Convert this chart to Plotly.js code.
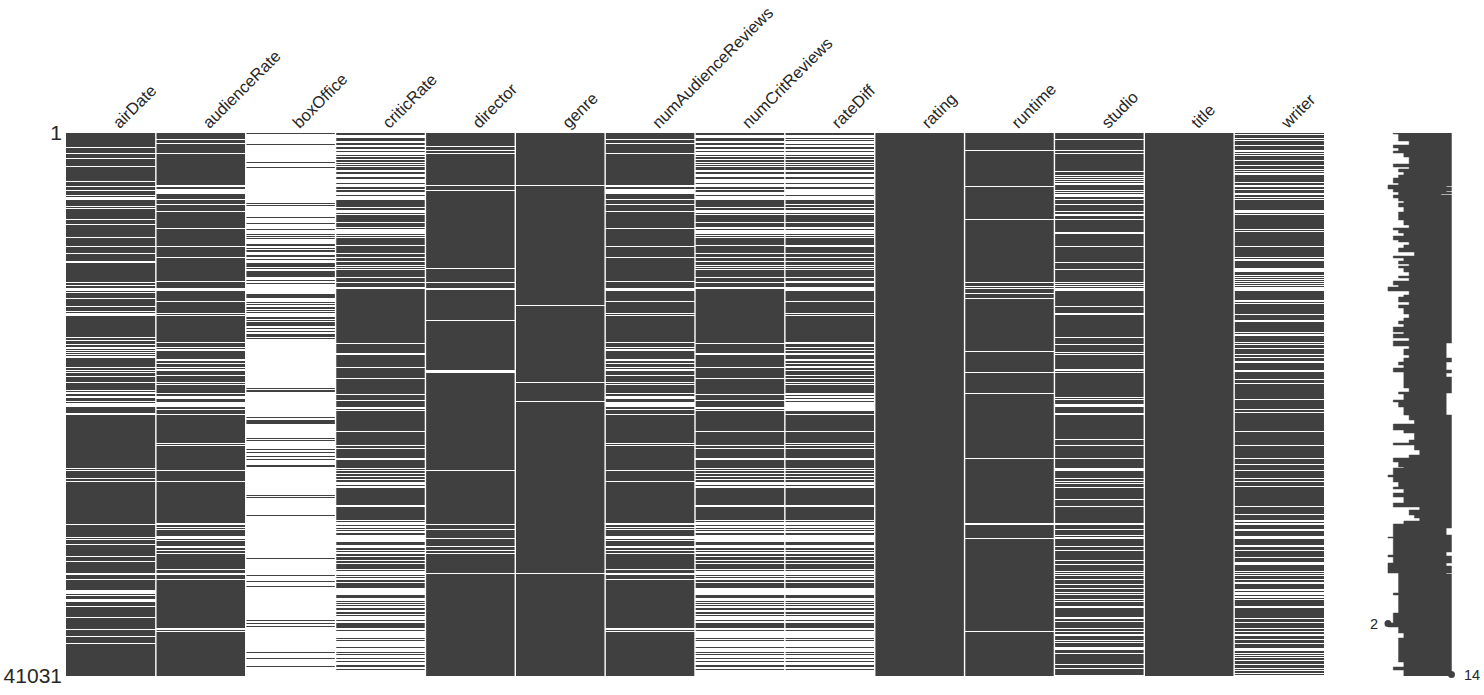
<!DOCTYPE html>
<html>
<head>
<meta charset="utf-8">
<script src="https://cdn.plot.ly/plotly-3.0.1.min.js"></script>
<style>html,body{margin:0;padding:0;background:#fff}</style>
</head>
<body>
<div id="chart" style="width:1484px;height:695px"></div>
<script>
const columns = ['airDate', 'audienceRate', 'boxOffice', 'criticRate', 'director', 'genre', 'numAudienceReviews',
  'numCritReviews', 'rateDiff', 'rating', 'runtime', 'studio', 'title', 'writer'];
const totalRows = 41031;
const binCount = 543; // each bin holds about 75 rows

// bins: a number is one bin, a pair is a run of bins
const airDateGaps = [14, 20, 25, 33, 48, 53, 57, 62, [64, 66], 73, 75, 86, 91, 104, 113, 120, [128, 129], 149, 152, [155, 157], 159, 165,
  173, 178, [180, 182], 204, 207, 211, [214, 215], 217, 219, 221, [223, 224], 234, 237, 239, 243, 249, 257, [259, 260],
  [263, 264], 268, [270, 273], [280, 281], 335, 337, 345, 348, 391, 404, 406, 411, 423, 428, [440, 441], 446,
  [457, 460], 462, [466, 468], 473, 484, 496, 503, 510];
const audienceRateGaps = [6, 10, 20, [52, 53], [56, 60], 66, 71, 78, 95, 113, 124, 148, [155, 157], 168, 180, 182, 209, 214, [216, 217],
  [226, 227], 230, 234, [236, 237], 242, 249, 251, 260, [263, 265], [269, 273], 276, 281, 310, 312, 337, 348,
  [390, 391], 394, 396, [403, 405], 407, [413, 414], 417, 420, 436, [440, 441], 446, [495, 496], 498];
const directorGaps = [13, 17, 20, 52, 57, 135, 149, [155, 156], 187, [237, 239], 337, 391, 396, 405, 413, 417, 420, 440];
const genreGaps = [52, 172, 249, 268, 440];
const numAudienceReviewsGaps = [6, 10, 20, [52, 53], [56, 60], 66, 71, 78, 95, 113, 124, 148, [155, 157], 168, 180, 182, 209, 214, [216, 217],
  [226, 227], 230, 234, [236, 237], 242, 249, 251, 260, [263, 265], [269, 273], 276, 281, 310, 312, 337, 348,
  [390, 391], 394, 396, [403, 405], 407, [413, 414], 417, 420, 436, [440, 441], 446, [495, 496], 498];
const ratingGaps = [];
const runtimeGaps = [17, 53, 86, 149, 153, 155, 160, 165, 218, 239, 260, 325, [390, 391], 405, 498];
const studioGaps = [6, 17, 20, 38, 42, 44, 46, 48, [50, 51], 57, 59, [61, 63], 66, 71, 78, [81, 82], 86, [99, 100], 113, 129, 136,
  149, 151, 153, [155, 157], 173, [180, 181], 204, 211, 219, 221, [236, 237], 239, 264, 266, [271, 273], [280, 281],
  306, 312, 325, [335, 337], 345, 348, 350, 354, 366, 373, [390, 391], 396, 402, [404, 405], 413, 417, 427, 431,
  438, 440, 442, 446, 451, 455, 459, 461, 466, 468, [473, 474], [484, 485], 488, 495, 498, [501, 502], 507, 509,
  [514, 516], 520, 531, 535, 542];
const titleGaps = [];
const writerGaps = [1, 5, 7, 12, [17, 18], 20, 22, 27, 32, 36, 38, [40, 41], 49, [52, 53], 56, [60, 61], 64, 66, [77, 79], 81, 96, 98,
  113, 124, [126, 127], [135, 138], 142, 144, 146, 148, 150, 152, 154, [155, 157], [167, 168], 170, 181, [187, 188],
  199, [201, 202], 209, 211, 215, 221, 224, [228, 229], [237, 238], 246, 250, 266, 276, 279, 298, 312, 325, 331, 337,
  345, 348, 353, 373, 381, [387, 388], [390, 391], [396, 397], [403, 405], [412, 413], 417, 424, [429, 431], 438, 440,
  442, 446, [449, 450], [456, 457], [459, 461], [463, 464], 466, [473, 474], 485, 489, 495, 498, [501, 502], 506, 510,
  [515, 517], 520, 522, 524, 527, 531, 535, 537, 540, 542];

// these columns are mostly empty, so the bins that do have data are listed instead
const boxOfficeFilled = [0, 11, 29, 34, 70, 72, 84, 90, 96, 101, 103, 105, [111, 112], 115, [117, 118], [122, 123], 126, [130, 133], 135,
  [138, 143], 147, 150, [161, 164], 169, 171, [174, 175], 177, 179, [184, 185], 187, [189, 192], 195, 198, [201, 203], 205,
  255, [257, 258], 284, [287, 290], 305, 307, 316, 319, 323, 326, [332, 333], 362, 364, 382, 425, 442, 448, 453,
  487, 490, 493, 519, 525, 533];
const criticRateFilled = [[0, 1], [5, 7], [10, 11], [14, 15], 18, 22, [24, 25], [27, 28], 30, 32, [34, 36], [39, 40], [44, 45], 50, [54, 55],
  [57, 58], 62, [67, 73], [75, 76], 80, [82, 88], [90, 93], 95, 101, 103, [105, 111], [113, 119], [121, 123], [125, 127],
  [129, 131], 133, 135, [137, 143], [145, 148], [150, 153], [156, 209], [211, 219], [222, 233], [235, 244], [246, 260],
  [262, 266], [268, 273], 276, [278, 297], [299, 311], [313, 314], [316, 324], [327, 334], 336, [338, 339], [341, 342],
  [344, 345], [347, 348], 352, [355, 371], [374, 386], 388, 392, 395, 397, [400, 401], [409, 411], [415, 416], 418,
  [421, 422], [424, 426], [428, 429], [431, 435], 437, 442, 444, [447, 448], [450, 454], [462, 464], 468, 470, 472,
  [475, 476], [479, 480], 482, 487, [490, 494], 497, 505, 507, 514, 519, 521, 525, 528, [532, 533], 536];
const numCritReviewsFilled = [[0, 1], [5, 7], [10, 11], [14, 15], 18, 22, [24, 25], [27, 28], 30, 32, [34, 36], [39, 40], [44, 45], 50, [54, 55],
  [57, 58], 62, [67, 73], [75, 76], 80, [82, 88], [90, 93], 96, 101, 103, [105, 111], [113, 119], [121, 123], [125, 127],
  [129, 131], 133, 135, [137, 143], [145, 148], [150, 153], [156, 209], [211, 219], [222, 233], [235, 244], [246, 260],
  [262, 266], [268, 273], 276, [278, 297], [299, 311], [313, 314], [316, 324], [327, 334], 336, [338, 339], [341, 342],
  [344, 345], [347, 348], 352, [355, 371], [374, 386], 388, 392, 395, 397, [400, 401], [409, 411], [415, 416], 418,
  [421, 422], [424, 426], [428, 429], [431, 435], 437, 442, 444, [447, 448], [450, 454], [462, 464], 468, 470, 472,
  [475, 476], [479, 480], 482, 487, [490, 494], 497, 505, 507, 514, 519, 521, 525, 528, [532, 533], 536];
const rateDiffFilled = [[0, 1], 5, 7, 11, [14, 15], 18, 22, [24, 25], [27, 28], 30, 32, [34, 36], [39, 40], [44, 45], 50, [54, 55], 62,
  [67, 70], [72, 73], [75, 76], 80, [82, 88], [90, 93], 96, 101, 103, [105, 111], [114, 119], [121, 123], [125, 127],
  [129, 131], 133, 135, [137, 143], [145, 147], [150, 153], [158, 167], [169, 179], 181, [183, 208], [211, 213], [215, 216],
  [218, 219], [222, 225], [228, 229], [231, 232], [235, 236], [238, 241], [243, 244], [246, 248], 250, [252, 259], 262, 265,
  268, [278, 280], [282, 297], [299, 309], 311, [313, 314], [316, 324], [327, 334], 336, [338, 339], [341, 342],
  [344, 345], [347, 348], 352, [355, 371], [374, 386], 388, 392, 395, 397, [400, 401], [409, 411], [415, 416], 418,
  [421, 422], [424, 426], [428, 429], [431, 435], 437, 442, 444, [447, 448], [450, 454], [462, 464], 468, 470, 472,
  [475, 476], [479, 480], 482, 487, [490, 494], 497, 505, 507, 514, 519, 521, 525, 528, [532, 533], 536];

// sparkline: first bin of each run, and the least / most complete columns in that run
const sparkLowBins = [0, 1, 8, 12, 15, 18, 20, 24, 31, 34, 36, 39, 42, 45, 50, 52, 56, 59, 62, 65, 68, 70, 74, 79, 87, 92, 95, 97, 100, 103,
  107, 109, 112, 115, 119, 123, 125, 128, 131, 133, 135, 139, 143, 145, 148, 152, 154, 158, 162, 164, 169, 172, 175, 181, 185,
  188, 191, 194, 199, 201, 205, 208, 213, 216, 222, 225, 229, 232, 235, 239, 255, 259, 261, 267, 269, 274, 282, 287, 291, 297,
  300, 307, 310, 312, 317, 322, 325, 329, 334, 335, 342, 344, 349, 354, 356, 360, 364, 370, 374, 377, 382, 385, 388, 391, 404,
  405, 422, 424, 430, 440, 460, 462, 480, 490, 494, 500, 505, 529, 534, 537];
const sparkLow = [3, 4, 6, 3, 4, 3, 5, 6, 3, 6, 4, 5, 4, 3, 4, 2, 3, 4, 3, 4, 5, 4, 5, 4, 5, 6, 3, 4, 5, 3,
  4, 6, 5, 4, 7, 3, 5, 4, 6, 4, 5, 6, 4, 6, 3, 4, 2, 6, 5, 4, 6, 4, 5, 6, 5,
  4, 5, 3, 5, 3, 6, 3, 6, 5, 6, 5, 4, 5, 3, 5, 6, 4, 5, 3, 4, 5, 6, 7, 3, 5,
  7, 6, 3, 7, 8, 6, 3, 4, 5, 3, 2, 3, 4, 3, 5, 3, 5, 3, 8, 6, 7, 8, 5, 3, 2,
  3, 2, 3, 2, 4, 3, 4, 3, 2, 4, 5, 4, 5, 3, 5];
const sparkHighBins = [0, 53, 54, 58, 59, 61, 62, 210, 225, 229, 237, 240, 244, 260, 282, 395, 402, 419, 423, 430, 433, 440, 441];
const sparkHigh = [14, 13, 14, 13, 14, 12, 14, 13, 14, 13, 14, 13, 14, 13, 14, 13, 14, 13, 14, 13, 14, 13, 14];

const minRowBin = 490, minRowValue = 2;
const maxRowBin = 541, maxRowValue = 14;

const darkColor = '#404040';
const textColor = '#262626';
const rowsPerBin = totalRows / binCount;

function toBins(list) {
  const bins = new Set();
  list.forEach(item => {
    const [from, to] = Array.isArray(item) ? item : [item, item];
    for (let b = from; b <= to; b++) bins.add(b);
  });
  return bins;
}

const columnGaps = [airDateGaps, audienceRateGaps, null, null, directorGaps, genreGaps, numAudienceReviewsGaps,
  null, null, ratingGaps, runtimeGaps, studioGaps, titleGaps, writerGaps];
const columnFilled = { 2: boxOfficeFilled, 3: criticRateFilled, 7: numCritReviewsFilled, 8: rateDiffFilled };

const gapSets = columnGaps.map(g => g && toBins(g));
const filledSets = {};
Object.keys(columnFilled).forEach(k => { filledSets[k] = toBins(columnFilled[k]); });

const matrix = [];
const binRows = [];
for (let b = 0; b < binCount; b++) {
  binRows.push((b + 0.5) * rowsPerBin);
  matrix.push(columns.map((name, c) => {
    if (gapSets[c]) return gapSets[c].has(b) ? 0 : 1;
    return filledSets[c].has(b) ? 1 : 0;
  }));
}

const heat = {
  type: 'heatmap',
  x: columns.map((name, i) => i),
  y: binRows,
  z: matrix,
  zmin: 0,
  zmax: 1,
  colorscale: [[0, '#ffffff'], [1, darkColor]],
  showscale: false,
  hoverinfo: 'skip'
};

// step outline of the sparkline, closed from the high edge to the low edge
function stepTrace(bins, values, fill) {
  const ys = bins.map(b => b * rowsPerBin).concat([totalRows]);
  const xs = values.concat([values[values.length - 1]]);
  return {
    type: 'scatter',
    mode: 'lines',
    x: xs,
    y: ys,
    xaxis: 'x2',
    yaxis: 'y2',
    line: { color: darkColor, width: 0.5, shape: 'vh' },
    fill: fill,
    fillcolor: darkColor,
    hoverinfo: 'skip',
    showlegend: false
  };
}

const sparkRight = stepTrace(sparkHighBins, sparkHigh, 'none');
const sparkLeft = stepTrace(sparkLowBins, sparkLow, 'tonextx');

const minY = (minRowBin + 0.5) * rowsPerBin;
const maxY = (maxRowBin + 0.5) * rowsPerBin;

const extremes = {
  type: 'scatter',
  mode: 'markers',
  x: [minRowValue, maxRowValue],
  y: [minY, maxY],
  xaxis: 'x2',
  yaxis: 'y2',
  marker: { color: darkColor, size: 7 },
  cliponaxis: false,
  hoverinfo: 'skip',
  showlegend: false
};

const separators = columns.slice(1).map((name, i) => ({
  type: 'line',
  xref: 'x',
  yref: 'y',
  x0: i + 0.5,
  x1: i + 0.5,
  y0: 0,
  y1: totalRows,
  line: { color: '#ffffff', width: 1.4 }
}));

const extremeLabels = [
  { x: minRowValue, y: minY, text: String(minRowValue), xanchor: 'right', xshift: -8 },
  { x: maxRowValue, y: maxY, text: String(maxRowValue), xanchor: 'left', xshift: 11 }
].map(a => Object.assign(a, {
  xref: 'x2',
  yref: 'y2',
  showarrow: false,
  font: { size: 14.5, color: textColor }
}));

const layout = {
  width: 1484,
  height: 695,
  margin: { l: 0, r: 0, t: 0, b: 0 },
  paper_bgcolor: '#ffffff',
  plot_bgcolor: '#ffffff',
  showlegend: false,
  font: { family: 'Liberation Sans', color: textColor },
  xaxis: {
    domain: [66 / 1484, 1324 / 1484],
    range: [-0.5, 13.5],
    side: 'top',
    anchor: 'y',
    tickmode: 'array',
    tickvals: columns.map((name, i) => i),
    ticktext: columns,
    tickangle: -45,
    tickfont: { size: 16.5, color: textColor },
    ticklabelshift: 3,
    ticklabelstandoff: -3,
    ticks: '',
    showgrid: false,
    zeroline: false,
    showline: false
  },
  yaxis: {
    domain: [19 / 695, 562 / 695],
    range: [totalRows, 0],
    anchor: 'x',
    tickmode: 'array',
    tickvals: [0, totalRows],
    ticktext: ['1', String(totalRows)],
    tickfont: { size: 21, color: textColor },
    ticklabelstandoff: 3,
    ticks: '',
    ticklen: 0,
    showgrid: false,
    zeroline: false,
    showline: false
  },
  xaxis2: {
    domain: [1370 / 1484, 1480 / 1484],
    range: [-1.4, 19.39],
    anchor: 'y2',
    visible: false
  },
  yaxis2: {
    domain: [19 / 695, 562 / 695],
    range: [totalRows, 0],
    anchor: 'x2',
    visible: false
  },
  shapes: separators,
  annotations: extremeLabels
};

Plotly.newPlot('chart', [heat, sparkRight, sparkLeft, extremes], layout, { displayModeBar: false });
</script>
</body>
</html>
